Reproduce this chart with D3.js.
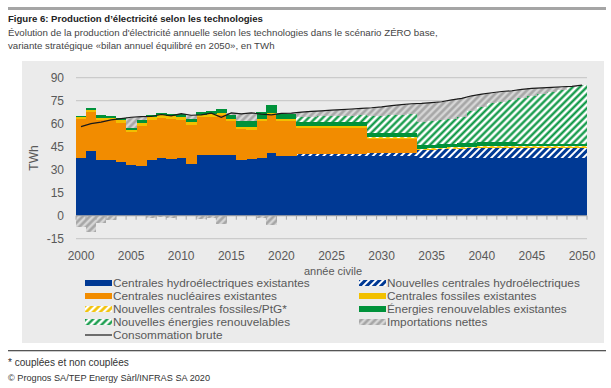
<!DOCTYPE html>
<html><head><meta charset="utf-8">
<script src="https://cdn.jsdelivr.net/npm/d3@7"></script>
<style>
body{margin:0;background:#fff}
svg{display:block}
text{font-family:"Liberation Sans",Arial,sans-serif}
</style>
</head><body>
<svg id="c" width="611" height="388"></svg>
<script>
const years = [2000,2001,2002,2003,2004,2005,2006,2007,2008,2009,2010,2011,2012,2013,2014,2015,2016,2017,2018,2019,
  2020,2021,2022,2023,2024,2025,2026,2027,2028,2029,2030,2031,2032,2033,2034,2035,2036,2037,2038,2039,
  2040,2041,2042,2043,2044,2045,2046,2047,2048,2049,2050];
const hydroExisting = [37.9,42.3,36.5,36.4,35.1,32.8,32.6,36.4,37.6,37.1,37.5,33.8,39.9,39.6,39.3,39.5,36.3,36.7,37.4,40.6,
  39.0,39.0,38.8,38.8,38.8,38.8,38.8,38.8,38.8,38.8,38.8,38.8,38.8,38.8,37.6,37.6,37.6,37.6,37.6,37.6,
  37.6,37.6,37.6,37.6,37.6,37.6,37.6,37.6,37.6,37.6,37.6];
const hydroNew = [0,0,0,0,0,0,0,0,0,0,0,0,0,0,0,0,0,0,0,0,
  0,0,1.6,1.6,1.6,1.6,1.6,1.6,1.6,2.0,2.0,2.0,2.0,2.0,5.0,5.3,5.6,5.9,6.2,6.5,
  6.6,6.6,6.6,6.6,6.6,6.6,6.6,6.6,6.6,6.6,6.6];
const nuclear = [24.9,25.3,25.7,25.9,25.4,22.0,26.2,26.3,26.1,26.1,25.2,25.6,24.3,24.9,26.4,22.1,20.2,19.5,24.4,25.3,
  23.0,23.0,17.0,17.0,17.0,17.0,17.0,17.0,17.0,9.5,9.5,9.5,9.5,9.5,0,0,0,0,0,0,
  0,0,0,0,0,0,0,0,0,0,0];
const fossilExisting = [1.5,1.5,1.8,1.7,1.8,1.3,1.8,1.8,1.7,1.6,1.8,1.6,1.6,1.6,1.4,1.5,1.6,1.5,1.5,1.4,
  0.9,0.9,0.8,0.8,0.8,0.8,0.8,0.8,0.8,0.6,0.6,0.6,0.6,0.6,0.3,0.3,0.3,0.3,0.3,0.3,
  0.3,0.3,0.3,0.3,0.3,0.3,0.3,0.3,0.3,0.3,0.3];
const fossilNew = [0,0,0,0,0,0,0,0,0,0,0,0,0,0,0,0,0,0,0,0,
  0,0,0.2,0.2,0.2,0.2,0.2,0.2,0.2,0.4,0.4,0.4,0.4,0.4,0.7,0.7,0.7,0.7,0.7,0.7,
  0.7,0.7,0.7,0.7,0.7,0.7,0.7,0.7,0.7,0.7,0.7];
const renewExisting = [1.0,1.25,1.5,1.3,1.55,1.1,1.5,1.5,1.6,1.6,1.8,1.9,2.1,2.3,2.5,2.9,3.4,3.8,4.3,4.7,
  3.3,3.3,2.9,2.9,2.9,2.9,2.9,2.9,2.9,2.6,2.6,2.6,2.6,2.6,2.5,2.5,2.5,2.5,2.5,2.5,
  2.6,2.6,2.6,2.6,1.3,1.3,1.3,1.3,1.3,1.3,1.3];
const renewNew = [0,0,0,0,0,0,0,0,0,0,0,0,0,0,0,0,0,0,0,0,
  0,0,3.0,3.2,3.4,3.6,3.8,4.0,4.2,11.2,11.4,11.7,12.0,12.3,14.9,15.1,15.6,16.0,17.3,20.4,
  23.3,25.5,26.5,27.6,30.0,31.5,32.8,34.4,35.5,37.2,38.7];
const imports = [-7.2,-10.4,-4.5,-2.8,-0.5,7.0,2.5,-1.3,-1.0,-1.3,0.3,2.6,-2.2,-1.5,-5.5,1.0,4.9,5.5,-1.3,-6.2,
  0.5,0.7,3.3,3.5,3.7,3.9,4.1,4.3,4.5,5.3,5.7,6.2,6.6,6.8,12.3,12.3,12.0,12.5,11.9,10.2,
  8.2,6.9,6.7,6.1,5.9,5.0,4.0,2.8,2.1,0.7,0];
const consumption = [58.1,60.0,61.0,62.5,63.3,64.2,64.6,64.7,66.0,65.1,66.6,65.5,65.7,66.9,64.1,67.0,66.4,67.0,66.3,65.8,
  66.7,66.9,67.6,68.0,68.4,68.8,69.2,69.6,70.0,70.4,71.0,71.8,72.5,73.0,73.3,73.8,74.3,75.5,76.5,78.2,
  79.3,80.2,81.0,81.5,82.4,83.0,83.3,83.7,84.1,84.4,85.2];
const yTicks = [-15,0,15,30,45,60,75,90];
const xTickLabels = [2000,2005,2010,2015,2020,2025,2030,2035,2040,2045,2050];

const series = [
  {key:"hydroExisting", values:hydroExisting, label:"Centrales hydroélectriques existantes", fill:"#003994"},
  {key:"hydroNew", values:hydroNew, label:"Nouvelles centrales hydroélectriques", fill:"url(#pBlue)"},
  {key:"nuclear", values:nuclear, label:"Centrales nucléaires existantes", fill:"#f28c00"},
  {key:"fossilExisting", values:fossilExisting, label:"Centrales fossiles existantes", fill:"#f2c000"},
  {key:"fossilNew", values:fossilNew, label:"Nouvelles centrales fossiles/PtG*", fill:"url(#pYellow)"},
  {key:"renewExisting", values:renewExisting, label:"Énergies renouvelables existantes", fill:"#00923a"},
  {key:"renewNew", values:renewNew, label:"Nouvelles énergies renouvelables", fill:"url(#pGreen)"},
  {key:"imports", values:imports, label:"Importations nettes", fill:"url(#pGrey)"}
];

const svg = d3.select("#c");
const defs = svg.append("defs");
function hatch(id, bg, fg, w){
  const p = defs.append("pattern").attr("id",id).attr("patternUnits","userSpaceOnUse")
    .attr("width",5).attr("height",5).attr("patternTransform","rotate(45)");
  p.append("rect").attr("width",5).attr("height",5).attr("fill",bg);
  p.append("line").attr("x1",1.5).attr("y1",0).attr("x2",1.5).attr("y2",5).attr("stroke",fg).attr("stroke-width",w);
}
hatch("pBlue","#ffffff","#003994",3);
hatch("pYellow","#ffffff","#f2c000",2.6);
hatch("pGreen","#ffffff","#00923a",2.2);
hatch("pGrey","#d6d6d6","#a3a3a3",2.4);

function fit(sel, target){
  const w = sel.node().getComputedTextLength();
  const fs = parseFloat(sel.attr("font-size"));
  sel.attr("font-size", (fs*target/w).toFixed(2));
  return sel;
}

// header
svg.append("rect").attr("x",8).attr("y",7).attr("width",598).attr("height",3).attr("fill","#a5a5a5");
fit(svg.append("text").attr("x",8).attr("y",22).attr("font-size",9).attr("font-weight","bold").attr("fill","#222")
  .text("Figure 6: Production d’électricité selon les technologies"), 255);
fit(svg.append("text").attr("x",8).attr("y",36).attr("font-size",9).attr("fill","#444")
  .text("Évolution de la production d'électricité annuelle selon les technologies dans le scénario ZÉRO base,"), 430);
fit(svg.append("text").attr("x",8).attr("y",49).attr("font-size",9).attr("fill","#444")
  .text("variante stratégique «bilan annuel équilibré en 2050», en TWh"), 267);

// panel
svg.append("rect").attr("x",22).attr("y",61).attr("width",582).attr("height",282).attr("fill","#ebebeb");

const x = d3.scaleBand().domain(years).range([76,587]).padding(0);
const y = d3.scaleLinear().domain([-15,90]).range([238.7,77.7]);

// grid
svg.append("g").selectAll("line").data(yTicks).join("line")
  .attr("x1",76).attr("x2",587).attr("y1",d=>y(d)).attr("y2",d=>y(d))
  .attr("stroke","#c4c4c4").attr("stroke-width",1);

// stacked bars
const table = years.map((yr,i)=>{const o={year:yr}; series.forEach(s=>o[s.key]=s.values[i]); return o;});
const stack = d3.stack().keys(series.map(s=>s.key)).offset(d3.stackOffsetDiverging)(table);
const gBars = svg.append("g").attr("shape-rendering","crispEdges");
stack.forEach((layer,li)=>{
  gBars.append("g").attr("fill",series[li].fill).selectAll("rect").data(layer).join("rect")
    .attr("x",d=>x(d.data.year)).attr("width",x.bandwidth()+0.4)
    .attr("y",d=>y(Math.max(d[0],d[1]))).attr("height",d=>Math.abs(y(d[0])-y(d[1])));
});

// zero axis with ticks between categories
const y0 = y(0);
svg.append("line").attr("x1",76).attr("x2",587).attr("y1",y0).attr("y2",y0).attr("stroke","#a8a8a8");
svg.append("g").selectAll("line").data(years.concat([2051])).join("line")
  .attr("x1",d=>d===2051?587:x(d)).attr("x2",d=>d===2051?587:x(d))
  .attr("y1",y0).attr("y2",y0+4).attr("stroke","#a8a8a8");

// consumption line
svg.append("path").datum(consumption)
  .attr("d", d3.line().x((d,i)=>x(years[i])+x.bandwidth()/2).y(d=>y(d)))
  .attr("fill","none").attr("stroke","#1a1a1a").attr("stroke-width",1.2);

// y axis labels
svg.append("g").selectAll("text").data(yTicks).join("text")
  .attr("x",64).attr("y",d=>y(d)).attr("dy","0.36em").attr("text-anchor","end")
  .attr("font-size",12).attr("fill","#595959").text(d=>d);
svg.append("text").attr("transform","translate(38,158) rotate(-90)").attr("text-anchor","middle")
  .attr("font-size",12).attr("fill","#595959").text("TWh");
// x labels
svg.append("g").selectAll("text").data(xTickLabels).join("text")
  .attr("x",d=>x(d)+x.bandwidth()/2).attr("y",260).attr("text-anchor","middle")
  .attr("font-size",12).attr("fill","#595959").text(d=>d);
svg.append("text").attr("x",333).attr("y",275).attr("text-anchor","middle")
  .attr("font-size",11).attr("fill","#595959").text("année civile");

// legend
const legendItems = [
  {s:series[0], col:0, row:0},{s:series[1], col:1, row:0},
  {s:series[2], col:0, row:1},{s:series[3], col:1, row:1},
  {s:series[4], col:0, row:2},{s:series[5], col:1, row:2},
  {s:series[6], col:0, row:3},{s:series[7], col:1, row:3},
  {s:{label:"Consommation brute", line:true}, col:0, row:4}
];
const colX = [85, 359], rowY = [283,296,309,322,335];
const lg = svg.append("g");
legendItems.forEach(it=>{
  const lx = colX[it.col], ly = rowY[it.row];
  if(it.s.line){
    lg.append("line").attr("x1",lx).attr("x2",lx+27).attr("y1",ly).attr("y2",ly).attr("stroke","#1a1a1a").attr("stroke-width",1.2);
  } else {
    lg.append("rect").attr("x",lx).attr("y",ly-3).attr("width",27).attr("height",6).attr("fill",it.s.fill);
  }
  lg.append("text").attr("x",lx+28).attr("y",ly+4).attr("font-size",11.8).attr("fill","#595959").text(it.s.label);
});

// footer
svg.append("rect").attr("x",8).attr("y",350).attr("width",598).attr("height",1.3).attr("fill","#555");
fit(svg.append("text").attr("x",8).attr("y",366).attr("font-size",9).attr("fill","#333").text("* couplées et non couplées"),121);
fit(svg.append("text").attr("x",8).attr("y",381).attr("font-size",9).attr("fill","#333").text("© Prognos SA/TEP Energy Sàrl/INFRAS SA 2020"),202);
</script>
</body></html>
